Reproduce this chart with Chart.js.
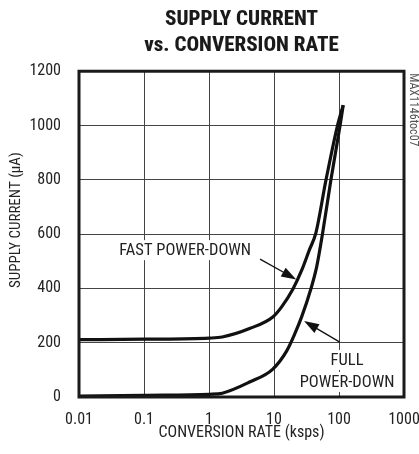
<!DOCTYPE html>
<html>
<head>
<meta charset="utf-8">
<style>
  html, body { margin: 0; padding: 0; background: #fff; overflow: hidden; }
  canvas { display: block; }
</style>
</head>
<body>
<canvas id="grafico" width="419" height="454"></canvas>
<script src="https://cdn.jsdelivr.net/npm/chart.js@4.4.0/dist/chart.umd.min.js"></script>
<script>
const FONTE = '"Roboto Condensed", Roboto, sans-serif';

// dados
const taxaFast = [0.01, 0.1, 1, 1.6, 4.3, 9.7, 13.1, 19.4, 26.7, 34.9, 44, 63, 95, 116];
const correnteFast = [211, 213, 217, 221, 253, 296, 332, 396, 467, 541, 604, 799, 1001, 1075];
const taxaFull = [0.01, 0.1, 1, 1.6, 4.3, 9.5, 15.7, 21, 26.7, 36.7, 45.4, 56, 75, 104, 116];
const correnteFull = [3, 6, 10, 14, 56, 102, 170, 234, 296, 396, 480, 604, 799, 1001, 1075];
const xTicks = [0.01, 0.1, 1, 10, 100, 1000];
const xLabels = ["0.01", "0.1", "1", "10", "100", "1000"];
const yTicks = [0, 200, 400, 600, 800, 1000, 1200];

// anotações (coordenadas em unidades dos eixos)
const notas = [
  { linhas: ["FAST POWER-DOWN"], x: 0.43, y: 541 },
  { linhas: ["FULL", "POWER-DOWN"], x: 133, y: 96 }
];
const setas = [
  { de: [6.1, 508], para: [22, 433] },
  { de: [103, 202], para: [29, 280] }
];

const extras = {
  id: "extras",
  afterDraw(chart) {
    const { ctx, chartArea: a, scales: { x, y } } = chart;
    ctx.save();

    // textos com fundo branco
    ctx.font = "16.5px " + FONTE;
    ctx.textAlign = "center";
    ctx.textBaseline = "middle";
    notas.forEach(n => {
      const cx = x.getPixelForValue(n.x);
      const cy = y.getPixelForValue(n.y);
      const alt = 22;
      const y0 = cy - (n.linhas.length - 1) * alt / 2;
      n.linhas.forEach((t, i) => {
        const w = ctx.measureText(t).width;
        ctx.fillStyle = "#fff";
        ctx.fillRect(cx - w / 2 - 3, y0 + i * alt - 10, w + 6, 20);
      });
      ctx.fillStyle = "#222";
      n.linhas.forEach((t, i) => ctx.fillText(t, cx, y0 + i * alt + 1));
    });

    // setas
    setas.forEach(s => {
      const x1 = x.getPixelForValue(s.de[0]), y1 = y.getPixelForValue(s.de[1]);
      const x2 = x.getPixelForValue(s.para[0]), y2 = y.getPixelForValue(s.para[1]);
      const c = Math.cos(Math.atan2(y2 - y1, x2 - x1));
      const sn = Math.sin(Math.atan2(y2 - y1, x2 - x1));
      ctx.strokeStyle = "#111";
      ctx.lineWidth = 1.3;
      ctx.beginPath();
      ctx.moveTo(x1, y1);
      ctx.lineTo(x2 - 10 * c, y2 - 10 * sn);
      ctx.stroke();
      ctx.fillStyle = "#111";
      ctx.beginPath();
      ctx.moveTo(x2, y2);
      ctx.lineTo(x2 - 15 * c + 5 * sn, y2 - 15 * sn - 5 * c);
      ctx.lineTo(x2 - 15 * c - 5 * sn, y2 - 15 * sn + 5 * c);
      ctx.closePath();
      ctx.fill();
    });

    // moldura
    ctx.strokeStyle = "#1a1a1a";
    ctx.lineWidth = 3;
    ctx.strokeRect(a.left, a.top, a.right - a.left, a.bottom - a.top);

    // título do eixo y (um pouco acima do centro, como no original)
    ctx.save();
    ctx.translate(16, (a.top + a.bottom) / 2 - 14);
    ctx.rotate(-Math.PI / 2);
    ctx.font = "15px " + FONTE;
    ctx.fillStyle = "#222";
    ctx.fillText("SUPPLY CURRENT (μA)", 0, 0);
    ctx.restore();

    // texto lateral
    ctx.translate(a.right + 9, a.top + 2);
    ctx.rotate(Math.PI / 2);
    ctx.font = "12px " + FONTE;
    ctx.textAlign = "left";
    ctx.fillStyle = "#555";
    ctx.fillText("MAX1146toc07", 0, 0);
    ctx.restore();
  }
};

const ctx = document.getElementById("grafico").getContext("2d");

new Chart(ctx, {
  type: "line",
  data: {
    datasets: [
      {
        label: "FAST POWER-DOWN",
        data: taxaFast.map((v, i) => ({ x: v, y: correnteFast[i] })),
        borderColor: "#111",
        borderWidth: 3.2,
        pointRadius: 0,
        cubicInterpolationMode: "monotone"
      },
      {
        label: "FULL POWER-DOWN",
        data: taxaFull.map((v, i) => ({ x: v, y: correnteFull[i] })),
        borderColor: "#111",
        borderWidth: 3.2,
        pointRadius: 0,
        cubicInterpolationMode: "monotone"
      }
    ]
  },
  options: {
    responsive: false,
    animation: false,
    layout: { padding: { left: 0, right: 15, top: 0, bottom: 0 } },
    plugins: {
      legend: { display: false },
      tooltip: { enabled: false },
      title: {
        display: true,
        fullSize: false,
        text: ["SUPPLY CURRENT", "vs. CONVERSION RATE"],
        color: "#1a1a1a",
        font: { family: FONTE, size: 21, weight: 800, lineHeight: 1.22 },
        padding: { top: 7, bottom: 13 }
      }
    },
    scales: {
      x: {
        type: "logarithmic",
        min: 0.01,
        max: 1000,
        afterBuildTicks: s => { s.ticks = xTicks.map(v => ({ value: v })); },
        afterFit: s => { s.height = 57; s.paddingLeft = 0; s.paddingRight = 0; },
        ticks: {
          color: "#222",
          font: { family: FONTE, size: 16 },
          padding: 13,
          maxRotation: 0,
          callback: (v, i) => xLabels[i]
        },
        grid: { color: "#444", lineWidth: 1, drawTicks: false },
        border: { display: false },
        title: {
          display: true,
          text: "CONVERSION RATE (ksps)",
          color: "#222",
          font: { family: FONTE, size: 16 },
          padding: { top: 0, bottom: 11 }
        }
      },
      y: {
        min: 0,
        max: 1200,
        afterBuildTicks: s => { s.ticks = yTicks.map(v => ({ value: v })); },
        afterFit: s => { s.width = 79; },
        ticks: {
          color: "#222",
          font: { family: FONTE, size: 16 },
          padding: 18,
          callback: v => String(v)
        },
        grid: { color: "#444", lineWidth: 1, drawTicks: false },
        border: { display: false }
      }
    }
  },
  plugins: [extras]
});
</script>
</body>
</html>
